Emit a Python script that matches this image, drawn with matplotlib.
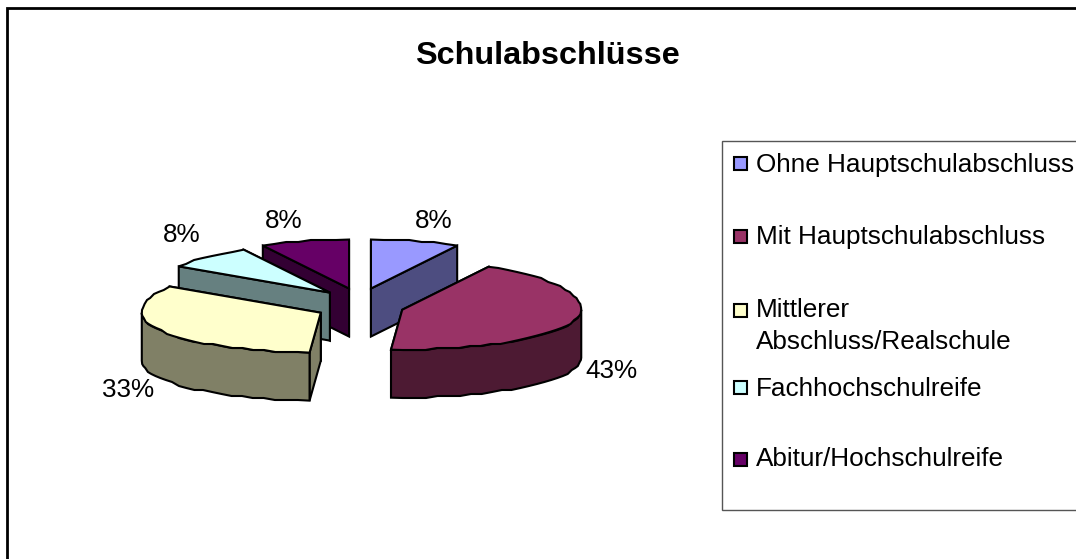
import numpy as np
import matplotlib
matplotlib.use("Agg")
import matplotlib.pyplot as plt
from matplotlib.patches import Polygon, Rectangle

plt.rcParams["font.family"] = ["Liberation Sans", "DejaVu Sans"]

title = "Schulabschlüsse"
names = ["Ohne Hauptschulabschluss", "Mit Hauptschulabschluss",
         "Mittlerer\nAbschluss/Realschule", "Fachhochschulreife",
         "Abitur/Hochschulreife"]
values = [8, 43, 33, 8, 8]
top_colors = ["#9999FF", "#993366", "#FFFFCC", "#CCFFFF", "#660066"]
side_colors = ["#4D4D80", "#4D1A33", "#808066", "#668080", "#330033"]

# pie geometry, in pixels
cx, cy = 360, 305
rx, ry_back, ry_front = 179, 49, 40
explode_x, explode_y = 44, 17
depth = 48

# where the percent labels and legend rows sit
label_pos = [(434, 221), (611, 371), (128, 390), (182, 235), (284, 221)]
legend_y = [164, 237, 311, 388, 460]
legend_text_y = [165, 237, 326, 389, 459]

fig = plt.figure(figsize=(10.76, 5.59), dpi=100)
ax = fig.add_axes([0, 0, 1, 1])
ax.set_xlim(0, 1076)
ax.set_ylim(559, 0)
ax.axis("off")

# outer frame runs off the right and bottom of the picture
ax.add_patch(Rectangle((7, 8), 1100, 600, fc="white", ec="black", lw=2))


def rim(ox, oy, a):
    # a is in radians, clockwise from 12 o'clock
    c = np.cos(a)
    ry = np.where(c > 0, ry_back, ry_front)
    return ox + rx * np.sin(a), oy - ry * c


def bumpy(xs, ys):
    # the old chart has a stepped, slightly wavy rim, keep the end points exact
    ys2 = np.round(ys / 2) * 2
    ys2[0], ys2[-1] = ys[0], ys[-1]
    return xs, ys2


def face(xs, ys, color, z):
    ax.add_patch(Polygon(np.column_stack([xs, ys]), closed=True, fc=color,
                         ec="black", lw=1.5, joinstyle="miter", zorder=z))


# slices start at the top and go clockwise
fractions = np.array(values) / sum(values)
ends = np.cumsum(fractions) * 2 * np.pi
starts = ends - fractions * 2 * np.pi

# back slices first, the big front ones over them
for z, i in enumerate([4, 3, 2, 0, 1]):
    a0, a1 = starts[i], ends[i]
    mid = (a0 + a1) / 2
    ox = cx + explode_x * np.sin(mid)
    oy = cy - explode_y * np.cos(mid)
    z = z * 3 + 2

    # cut faces, the one further back goes first
    cuts = sorted((a0, a1), key=lambda a: float(rim(ox, oy, a)[1]))
    for a in cuts:
        ex, ey = rim(ox, oy, a)
        face([ox, ex, ex, ox], [oy, ey, ey + depth, oy + depth], side_colors[i], z)

    # outer wall, only the part that faces the viewer
    lo, hi = max(a0, np.pi / 2), min(a1, 3 * np.pi / 2)
    if lo < hi:
        t = np.linspace(lo, hi, max(int((hi - lo) * 16), 2))
        xs, ys = bumpy(*rim(ox, oy, t))
        face(np.r_[xs, xs[::-1]], np.r_[ys, ys[::-1] + depth], side_colors[i], z + 1)

    # top
    t = np.linspace(a0, a1, max(int((a1 - a0) * 16), 6))
    xs, ys = bumpy(*rim(ox, oy, t))
    face(np.r_[ox, xs], np.r_[oy, ys], top_colors[i], z + 2)

for v, (x, y) in zip(values, label_pos):
    ax.text(x, y, f"{v}%", fontsize=18.8, ha="center", va="center", color="black", zorder=30)

ax.text(547, 56, title, fontsize=23.3, fontweight="bold", ha="center", va="center", zorder=30)

# legend
ax.add_patch(Rectangle((722, 141), 400, 369, fc="white", ec="#555555", lw=1, zorder=30))
for name, color, my, ty in zip(names, top_colors, legend_y, legend_text_y):
    ax.add_patch(Rectangle((734, my - 7), 13, 13, fc=color, ec="black", lw=1.5, zorder=31))
    ax.text(756, ty, name, fontsize=18.8, ha="left", va="center", linespacing=1.45, zorder=31)

fig.savefig("out.png", dpi=100)
